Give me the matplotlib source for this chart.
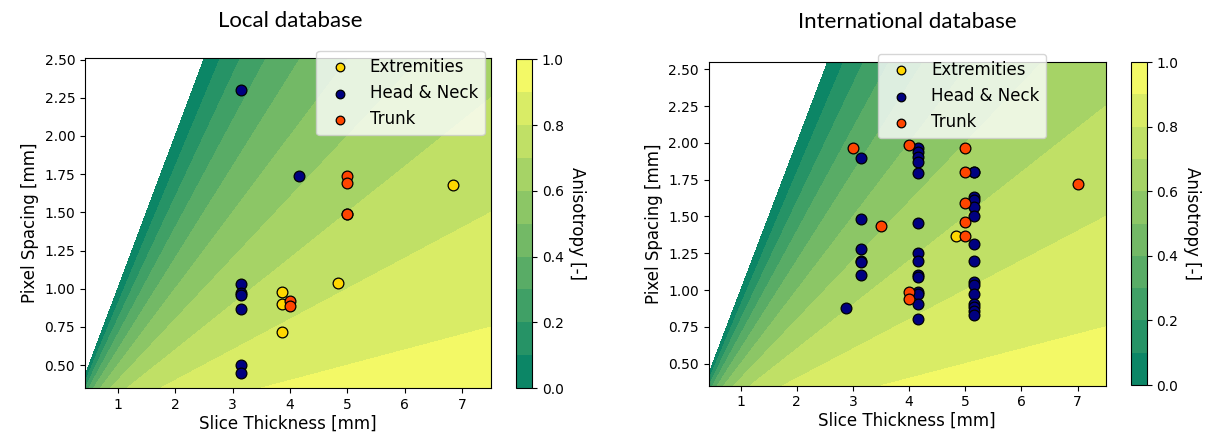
import numpy as np
import matplotlib.pyplot as plt

# local database (slice thickness [mm], pixel spacing [mm])
local_ext_x = [3.86, 3.86, 3.86, 4.84, 6.84]
local_ext_y = [0.98, 0.90, 0.72, 1.04, 1.68]
local_hn_x = [3.15, 4.15, 3.15, 3.15, 3.15, 3.15, 3.15, 3.15]
local_hn_y = [2.30, 1.74, 1.03, 0.97, 0.96, 0.87, 0.50, 0.45]
local_tr_x = [4.0, 4.0, 5.0, 5.0, 5.0, 5.0]
local_tr_y = [0.92, 0.89, 1.74, 1.69, 1.49, 1.49]

# international database
int_ext_x = [4.84]
int_ext_y = [1.37]
int_hn_x = ([3.15] * 6 + [2.87] + [4.16] * 14 + [5.16] * 15)
int_hn_y = ([1.895, 1.48, 1.28, 1.20, 1.19, 1.10]
            + [0.875]
            + [1.968, 1.935, 1.904, 1.873, 1.793, 1.453, 1.25, 1.20,
               1.10, 1.09, 0.99, 0.97, 0.905, 0.805]
            + [1.805, 1.805, 1.63, 1.612, 1.566, 1.50, 1.31, 1.20,
               1.054, 1.036, 0.975, 0.907, 0.884, 0.86, 0.83])
int_tr_x = [3.0, 4.0, 5.0, 5.0, 7.0, 5.0, 3.5, 5.0, 5.0, 4.0, 4.0]
int_tr_y = [1.967, 1.985, 1.967, 1.805, 1.724, 1.593, 1.432, 1.46, 1.368, 0.988, 0.938]

groups = ['Extremities', 'Head & Neck', 'Trunk']
colors = ['gold', 'navy', 'orangered']
levels = np.linspace(0, 1, 11)


def draw_panel(ax, cax, pts, ylim, leg_anchor):
    xs = np.linspace(0.43, 7.5, 400)
    ys = np.linspace(ylim[0], ylim[1], 400)
    X, Y = np.meshgrid(xs, ys)
    A = 1 - Y / X  # anisotropy
    cf = ax.contourf(X, Y, A, levels=levels, cmap='summer')
    for (px, py), lab, c in zip(pts, groups, colors):
        ax.scatter(px, py, s=60, c=c, edgecolors='black', linewidths=0.9,
                   label=lab, zorder=3)
    ax.set_xlim(0.43, 7.5)
    ax.set_ylim(*ylim)
    ax.set_xticks(range(1, 8))
    ax.set_yticks(np.arange(0.5, 2.51, 0.25))
    ax.yaxis.set_major_formatter(plt.FormatStrFormatter('%.2f'))
    ax.set_xlabel('Slice Thickness [mm]', fontsize=12, labelpad=2)
    ax.set_ylabel('Pixel Spacing [mm]', fontsize=12, labelpad=4)
    ax.legend(loc='upper right', bbox_to_anchor=leg_anchor, borderaxespad=0,
              fontsize=12, scatterpoints=1, markerscale=0.8)
    cb = plt.colorbar(cf, cax=cax, ticks=[0, 0.2, 0.4, 0.6, 0.8, 1.0])
    cb.set_label('Anisotropy [-]', rotation=270, fontsize=12, labelpad=16)
    cb.ax.tick_params(labelsize=10)


fig = plt.figure(figsize=(12.1, 4.4), dpi=100)
ax1 = fig.add_axes([0.0702, 0.118, 0.3355, 0.75])
cax1 = fig.add_axes([0.4262, 0.118, 0.0135, 0.747])
ax2 = fig.add_axes([0.5857, 0.1234, 0.328, 0.7357])
cax2 = fig.add_axes([0.9345, 0.125, 0.0132, 0.734])

draw_panel(ax1, cax1,
           [(local_ext_x, local_ext_y), (local_hn_x, local_hn_y), (local_tr_x, local_tr_y)],
           (0.35, 2.51), (0.985, 1.021))
draw_panel(ax2, cax2,
           [(int_ext_x, int_ext_y), (int_hn_x, int_hn_y), (int_tr_x, int_tr_y)],
           (0.35, 2.55), (0.85, 1.025))

fig.text(290 / 1210, 1 - 21 / 440, 'Local database', ha='center', va='center',
         fontsize=16, family='Lato')
fig.text(907 / 1210, 1 - 22 / 440, 'International database', ha='center', va='center',
         fontsize=16, family='Lato')

fig.savefig('out.png', dpi=100)
